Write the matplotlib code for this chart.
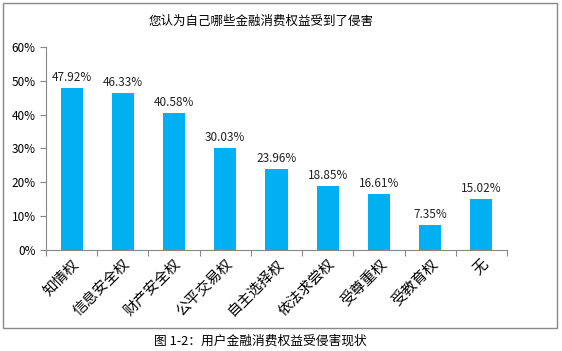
import matplotlib
matplotlib.use('Agg')
import matplotlib.pyplot as plt
from matplotlib.patches import Rectangle
from matplotlib.ticker import PercentFormatter

plt.rcParams['font.family'] = ['Noto Sans CJK SC', 'DejaVu Sans']

categories = ['知情权', '信息安全权', '财产安全权', '公平交易权', '自主选择权',
              '依法求尝权', '受尊重权', '受教育权', '无']
values = [47.92, 46.33, 40.58, 30.03, 23.96, 18.85, 16.61, 7.35, 15.02]

fig = plt.figure(figsize=(5.62, 3.51), dpi=100)
ax = fig.add_axes([0.082, 0.288, 0.82, 0.578])

x = range(len(categories))
ax.bar(x, values, width=0.43, color='#00B0F0')
for i, v in enumerate(values):
    ax.text(i, v + 1.2, '%.2f%%' % v, ha='center', va='bottom', fontsize=8.5, color='#222222')

ax.set_xlim(-0.5, len(categories) - 0.5)
ax.set_ylim(0, 60)
ax.set_yticks(range(0, 61, 10))
ax.yaxis.set_major_formatter(PercentFormatter(decimals=0))
ax.tick_params(axis='y', labelsize=8.5, direction='out', length=4, color='#888888')
ax.set_xticks([i + 0.5 for i in range(-1, len(categories))])
ax.set_xticklabels([])
ax.set_xticks(list(x), minor=True)
ax.set_xticklabels(categories, minor=True, rotation=45, ha='right', rotation_mode='anchor', fontsize=10.5)
ax.tick_params(axis='x', which='major', direction='out', length=4, color='#888888')
ax.tick_params(axis='x', which='minor', length=0, pad=5)
for s in ['top', 'right']:
    ax.spines[s].set_visible(False)
for s in ['left', 'bottom']:
    ax.spines[s].set_color('#888888')

fig.text(0.465, 0.94, '您认为自己哪些金融消费权益受到了侵害', ha='center', va='center', fontsize=9)
fig.patches.append(Rectangle((3 / 562, 1 - 328 / 351), 554 / 562, 325 / 351,
                             transform=fig.transFigure, fill=False, edgecolor='#888888', lw=1))
fig.text(0.463, 0.028, '图 1-2：用户金融消费权益受侵害现状', ha='center', va='center', fontsize=9.2)

fig.savefig('out.png', dpi=100)
